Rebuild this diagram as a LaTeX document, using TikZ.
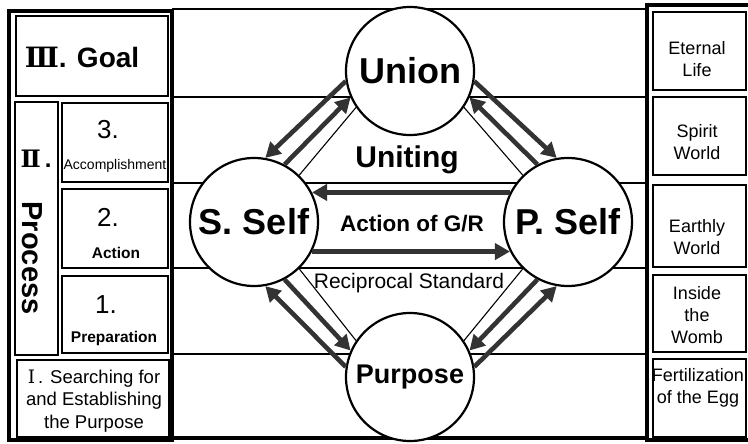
\documentclass[tikz,border=0pt]{standalone}
\usepackage{fontspec}
\setmainfont{Liberation Sans}
\newfontfamily\numfont{DejaVu Serif}
\usetikzlibrary{arrows.meta}
\begin{document}
\begin{tikzpicture}[x=1pt,y=-1pt,
	box/.style={draw=black, line width=2.2pt},
	frame/.style={draw=black, line width=3.2pt},
	row/.style={draw=black, line width=1.1pt},
	self/.style={circle, draw=black, line width=2.2pt, fill=white, minimum size=128pt, inner sep=0pt},
	fat/.style={draw=black!80, line width=4.6pt, -{Triangle[length=15pt,width=16pt]}},
	thin/.style={draw=black, line width=1.1pt},
	side/.style={align=center, font=\fontsize{18}{21.6}\selectfont}]
	\useasboundingbox (0,0) rectangle (748,444);
	% rows across the middle
	\draw[row] (172,9) -- (647,9);
	\draw[row] (172,97) -- (647,97);
	\draw[row] (172,183) -- (647,183);
	\draw[row] (172,268) -- (647,268);
	\draw[row] (172,354) -- (647,354);
	\draw[frame] (172,438) -- (647,438);
	% left column
	\draw[frame] (9,11) rectangle (172,440);
	\draw[box] (16,16) rectangle (168,96);
	\draw[box] (15,102) rectangle (58,355);
	\draw[box] (62,103) rectangle (168,182);
	\draw[box] (62,189) rectangle (168,268);
	\draw[box] (62,276) rectangle (168,353);
	\draw[box] (17,360) rectangle (169,437);
	\node[font=\fontsize{28}{30}\selectfont\bfseries] (goal) at (82,57) {{\numfont Ⅲ}. Goal};
	\node[font=\fontsize{24}{26}\selectfont\bfseries] (two) at (36,159) {{\numfont Ⅱ}\,.};
	\node[rotate=-90, font=\fontsize{29}{30}\selectfont\bfseries] (process) at (32,258) {Process};
	\node[font=\fontsize{26}{28}\selectfont] (n3) at (108,130) {3.};
	\node[font=\fontsize{14}{16}\selectfont] (accomp) at (115,166) {Accomplishment};
	\node[font=\fontsize{26}{28}\selectfont] (n2) at (108,217) {2.};
	\node[font=\fontsize{15.5}{18}\selectfont\bfseries] (act) at (116,253) {Action};
	\node[font=\fontsize{26}{28}\selectfont] (n1) at (106,305) {1.};
	\node[font=\fontsize{15.5}{18}\selectfont\bfseries] (prep) at (114,338) {Preparation};
	\node[align=center, font=\fontsize{18.5}{22.5}\selectfont] (search) at (94,401) {{\numfont Ⅰ}\,. Searching for\\and Establishing\\the Purpose};
	% right column
	\draw[frame] (647,5) rectangle (752,440);
	\draw[box] (653,12) rectangle (746,90);
	\draw[box] (653,97) rectangle (746,175);
	\draw[box] (653,185) rectangle (746,267);
	\draw[box] (653,275) rectangle (746,352);
	\draw[box] (653,359) rectangle (746,437);
	\node[side] (eternal) at (697,59) {Eternal\\Life};
	\node[side] (spirit) at (697,142) {Spirit\\World};
	\node[side] (earthly) at (697,237) {Earthly\\World};
	\node[side] (womb) at (697,315) {Inside\\the\\Womb};
	\node[side] (egg) at (698,388) {Fertilization\\of the Egg};
	% the four circles
	\node[self, font=\fontsize{36}{40}\selectfont\bfseries] (un) at (410,71) {Union};
	\node[self, font=\fontsize{36}{40}\selectfont\bfseries] (ss) at (254,222) {S.~Self};
	\node[self, font=\fontsize{36}{40}\selectfont\bfseries] (ps) at (568,222) {P.~Self};
	\node[self, font=\fontsize{27}{30}\selectfont\bfseries] (pu) at (410,377) {Purpose};
	\node[font=\fontsize{30}{32}\selectfont\bfseries] (uniting) at (407,160) {Uniting};
	\node[font=\fontsize{22.5}{26}\selectfont\bfseries] (gr) at (412,224) {Action of G/R};
	\node[font=\fontsize{21}{24}\selectfont] (recip) at (409,283) {Reciprocal Standard};
	% thin sides
	\draw[thin] (un.214) -- (ss.46);
	\draw[thin] (un.326) -- (ps.134);
	\draw[thin] (pu.146) -- (ss.314);
	\draw[thin] (pu.34) -- (ps.226);
	% arrows
	\draw[fat] (un.189) -- (ss.80);
	\draw[fat] (ss.62) -- (un.204);
	\draw[fat] (un.351) -- (ps.100);
	\draw[fat] (ps.118) -- (un.336);
	\draw[fat] (pu.171) -- (ss.280);
	\draw[fat] (ss.298) -- (pu.156);
	\draw[fat] (pu.9) -- (ps.260);
	\draw[fat] (ps.242) -- (pu.24);
	\draw[fat] (ps.153) -- (ss.27);
	\draw[fat] (ss.333) -- (ps.207);
\end{tikzpicture}
\end{document}
